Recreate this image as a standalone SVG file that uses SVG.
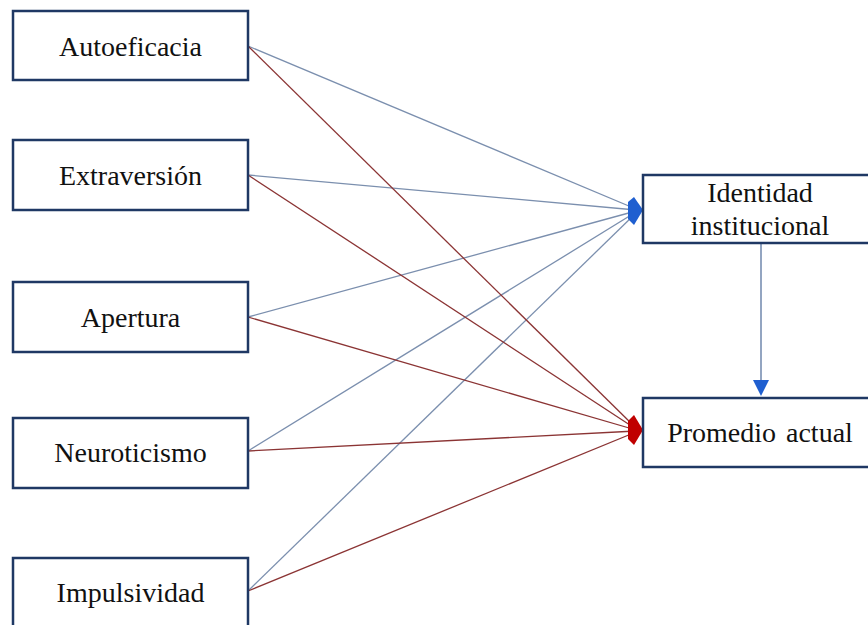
<svg xmlns="http://www.w3.org/2000/svg" width="868" height="625" viewBox="0 0 868 625">
<style>
.box{fill:#fff;stroke:#1f3864;stroke-width:2.5}
.t{font-size:28px;fill:#111;text-anchor:middle}
.b{stroke:#7b8fae;stroke-width:1.3;fill:none}
.r{stroke:#8b3434;stroke-width:1.3;fill:none}
</style>
<rect width="868" height="625" fill="#fff"/>
<g id="connectors">
<line class="b" x1="248" y1="46" x2="636" y2="209"/>
<line class="b" x1="248" y1="175" x2="636" y2="210"/>
<line class="b" x1="248" y1="317" x2="636" y2="211"/>
<line class="b" x1="248" y1="451" x2="636" y2="212"/>
<line class="b" x1="248" y1="591" x2="636" y2="213"/>
<line class="r" x1="248" y1="46" x2="636" y2="428"/>
<line class="r" x1="248" y1="175" x2="636" y2="429"/>
<line class="r" x1="248" y1="317" x2="636" y2="430"/>
<line class="r" x1="248" y1="451" x2="636" y2="431"/>
<line class="r" x1="248" y1="591" x2="636" y2="432"/>
<polygon points="643,210 634,197 628,202 628,219 634,225" fill="#1f5fd0"/>
<polygon points="643,430 634,415 628,421 628,439 634,445" fill="#c00000"/>
<line x1="761" y1="244" x2="761" y2="382" stroke="#6f87ad" stroke-width="1.5"/>
<polygon points="753,380 769,380 761,396" fill="#1f5fd0"/>
</g>
<g font-family="Liberation Serif, Times New Roman, serif">
<g id="autoeficacia"><rect class="box" x="13" y="11" width="235" height="69"/><text class="t" x="130.5" y="56">Autoeficacia</text></g>
<g id="extraversion"><rect class="box" x="13" y="140" width="235" height="70"/><text class="t" x="130.5" y="185">Extraversión</text></g>
<g id="apertura"><rect class="box" x="13" y="282" width="235" height="70"/><text class="t" x="130.5" y="327">Apertura</text></g>
<g id="neuroticismo"><rect class="box" x="13" y="418" width="235" height="70"/><text class="t" x="130.5" y="462">Neuroticismo</text></g>
<g id="impulsividad"><rect class="box" x="13" y="558" width="235" height="70"/><text class="t" x="130.5" y="602">Impulsividad</text></g>
<g id="identidad"><rect class="box" x="643" y="175" width="230" height="68"/><text class="t" x="760" y="202">Identidad</text><text class="t" x="760" y="235">institucional</text></g>
<g id="promedio"><rect class="box" x="643" y="398" width="230" height="69"/><text class="t" x="760" y="442" word-spacing="3">Promedio actual</text></g>
</g>
</svg>
